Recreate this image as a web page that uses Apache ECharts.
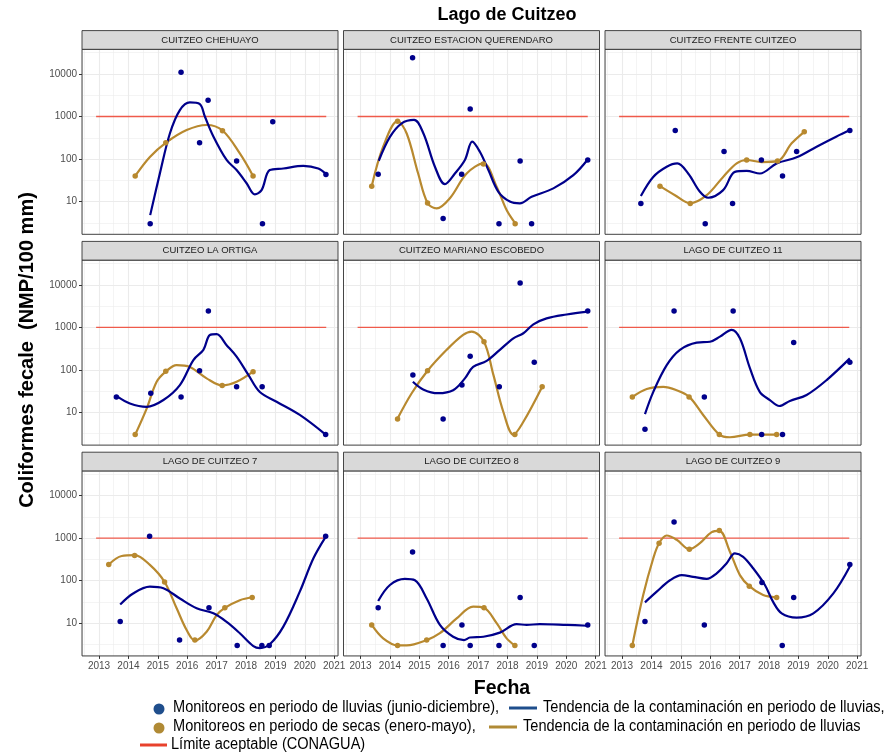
<!DOCTYPE html>
<html>
<head>
<meta charset="utf-8">
<script src="https://cdn.jsdelivr.net/npm/echarts@6/dist/echarts.min.js"></script>
<style>
html,body{margin:0;padding:0;background:#ffffff;}
#chart{width:887px;height:755px;}
</style>
</head>
<body>
<div id="chart"></div>
<script>
// Estaciones de monitoreo (una faceta por estación)
const estaciones = [
  'CUITZEO CHEHUAYO', 'CUITZEO ESTACION QUERENDARO', 'CUITZEO FRENTE CUITZEO',
  'CUITZEO LA ORTIGA', 'CUITZEO MARIANO ESCOBEDO', 'LAGO DE CUITZEO 11',
  'LAGO DE CUITZEO 7', 'LAGO DE CUITZEO 8', 'LAGO DE CUITZEO 9'
];

// Monitoreos en periodo de lluvias: [fecha decimal, NMP/100 ml]
const lluviasPuntos = [
  [[2014.74,3],[2015.79,11000],[2016.42,240],[2016.71,2400],[2017.68,90],[2018.56,3],[2018.91,750],[2020.72,43]],
  [[2013.60,44],[2014.77,24000],[2015.81,4],[2016.44,44],[2016.73,1500],[2017.71,3],[2018.43,90],[2018.82,3],[2020.73,95]],
  [[2013.64,9],[2014.81,470],[2015.83,3],[2016.47,150],[2016.76,9],[2017.74,95],[2018.46,40],[2018.94,150],[2020.75,470]],
  [[2013.59,23],[2014.76,28],[2015.79,23],[2016.42,95],[2016.72,2400],[2017.68,40],[2018.55,40],[2020.71,3]],
  [[2014.78,76],[2015.81,7],[2016.45,44],[2016.73,210],[2017.72,40],[2018.43,11000],[2018.91,150],[2020.73,2400]],
  [[2013.78,4],[2014.77,2400],[2015.80,23],[2016.78,2400],[2017.75,3],[2018.46,3],[2018.84,440],[2020.75,150]],
  [[2013.72,11],[2014.72,1100],[2015.74,4],[2016.74,23],[2017.70,3],[2018.54,3],[2018.79,3],[2020.71,1100]],
  [[2013.60,23],[2014.77,470],[2015.81,3],[2016.45,9],[2016.73,3],[2017.71,3],[2018.43,40],[2018.91,3],[2020.73,9]],
  [[2013.78,11],[2014.77,2400],[2015.80,9],[2017.76,90],[2018.45,3],[2018.84,40],[2020.75,240]]
];

// Monitoreos en periodo de secas
const secasPuntos = [
  [[2014.23,40],[2015.27,240],[2017.20,460],[2018.24,40]],
  [[2013.38,23],[2014.26,770],[2015.28,9.3],[2017.18,76],[2018.26,3]],
  [[2014.29,23],[2015.32,9],[2017.24,95],[2018.29,90],[2019.20,440]],
  [[2014.23,3],[2015.27,92],[2017.19,43],[2018.24,90]],
  [[2014.26,7],[2015.28,95],[2017.20,460],[2018.25,3],[2019.18,40]],
  [[2013.35,23],[2015.28,23],[2016.31,3],[2017.35,3],[2018.26,3]],
  [[2013.33,240],[2014.21,390],[2015.23,93],[2016.26,4],[2017.28,23],[2018.21,40]],
  [[2013.38,9],[2014.26,3],[2015.25,4],[2017.20,23],[2018.25,3]],
  [[2013.35,3],[2014.26,760],[2015.29,550],[2016.31,1500],[2017.33,74],[2018.26,40]]
];

// Tendencia suavizada, periodo de lluvias
const tendenciaLluvias = [
  [[2014.74,4.8],[2015.07,46],[2015.41,398],[2015.75,1410],[2016.09,2140],[2016.43,1950],[2016.60,1000],[2016.89,339],[2017.34,95],[2017.68,55],[2018.02,27],[2018.30,14.8],[2018.53,18.6],[2018.81,55],[2019.27,60],[2019.95,69],[2020.46,60],[2020.71,45]],
  [[2013.62,91],[2014.00,331],[2014.40,692],[2014.82,832],[2015.14,398],[2015.53,66],[2015.87,25.7],[2016.21,45.7],[2016.55,95],[2016.80,257],[2017.06,148],[2017.35,55],[2017.69,17],[2018.08,10],[2018.42,9.1],[2018.82,12.9],[2019.56,20.4],[2020.24,41.7],[2020.73,97.7]],
  [[2013.64,13.5],[2014.06,38],[2014.52,66],[2014.88,79],[2015.25,45.7],[2015.65,17],[2015.93,12.3],[2016.44,18.6],[2016.84,50],[2017.24,52.5],[2017.69,45.7],[2018.26,79],[2018.94,110],[2019.62,195],[2020.30,339],[2020.75,479]],
  [[2013.59,24.5],[2014.05,16.2],[2014.62,13.5],[2015.19,19.5],[2015.75,43.7],[2016.21,170],[2016.55,295],[2016.77,661],[2017.00,692],[2017.34,380],[2017.68,204],[2018.08,76],[2018.47,30],[2019.04,17.8],[2019.83,8.7],[2020.71,3]],
  [[2014.78,52.5],[2015.13,34.7],[2015.64,28.2],[2016.15,33.1],[2016.55,63],[2016.83,117],[2017.29,162],[2017.74,295],[2018.20,550],[2018.54,724],[2018.88,1175],[2019.33,1620],[2020.01,2000],[2020.73,2340]],
  [[2013.78,9.1],[2014.06,30],[2014.52,129],[2014.97,295],[2015.54,437],[2015.99,457],[2016.33,603],[2016.73,871],[2017.01,550],[2017.35,110],[2017.69,30],[2018.03,19.5],[2018.35,14.1],[2018.71,18.6],[2019.28,25.7],[2019.96,57.5],[2020.75,186]],
  [[2013.72,27.5],[2014.16,50],[2014.73,72],[2015.19,66],[2015.75,38],[2016.32,22.4],[2016.89,17],[2017.34,10.7],[2017.79,5.8],[2018.25,2.9],[2018.47,2.6],[2018.81,3.2],[2019.27,8.3],[2019.83,55],[2020.29,331],[2020.71,1070]],
  [[2013.60,33.1],[2014.00,79],[2014.51,110],[2014.85,102],[2015.25,38],[2015.70,9.1],[2016.15,4.8],[2016.52,4],[2016.72,4.6],[2017.18,4.8],[2017.74,6],[2018.31,9.5],[2018.65,9.1],[2019.10,9.5],[2020.01,9.1],[2020.73,8.7]],
  [[2013.78,30.9],[2014.18,55],[2014.63,102],[2015.03,135],[2015.42,123],[2015.88,110],[2016.22,148],[2016.56,257],[2016.84,437],[2017.12,363],[2017.46,195],[2017.86,79],[2018.14,31.6],[2018.43,17],[2018.94,13.5],[2019.51,17],[2020.19,50],[2020.75,214]]
];

// Tendencia suavizada, periodo de secas
const tendenciaSecas = [
  [[2014.23,40],[2014.73,112],[2015.27,240],[2015.98,479],[2016.66,631],[2017.20,468],[2017.79,135],[2018.24,40]],
  [[2013.38,23],[2013.77,195],[2014.26,776],[2014.57,398],[2014.96,45.7],[2015.28,9.3],[2015.59,6.9],[2016.04,12],[2016.61,45.7],[2017.18,79],[2017.63,22.4],[2017.97,6.3],[2018.26,3.1]],
  [[2014.29,23],[2014.80,14.1],[2015.32,9.1],[2015.88,14.1],[2016.44,38],[2016.90,79],[2017.24,95],[2017.75,85],[2018.29,89],[2018.77,234],[2019.20,437]],
  [[2014.23,3],[2014.62,12.3],[2014.96,52.5],[2015.27,91],[2015.64,129],[2016.09,117],[2016.66,63],[2017.19,43],[2017.68,52.5],[2018.24,91]],
  [[2014.26,7.2],[2014.74,28.2],[2015.28,95],[2015.93,295],[2016.49,661],[2016.78,794],[2017.20,457],[2017.52,76],[2017.86,10.2],[2018.20,3],[2018.54,6],[2019.18,40]],
  [[2013.35,23],[2013.84,35.5],[2014.40,39.8],[2014.86,33.1],[2015.28,23.4],[2015.76,8.7],[2016.31,3],[2016.67,2.6],[2017.35,3],[2018.26,3]],
  [[2013.33,240],[2013.77,380],[2014.21,398],[2014.73,234],[2015.23,93],[2015.64,22.4],[2015.98,6.9],[2016.26,3.9],[2016.66,6.3],[2017.00,15.5],[2017.28,22.9],[2017.79,34.7],[2018.21,40.7]],
  [[2013.38,9.1],[2013.77,4.4],[2014.26,3],[2014.57,3],[2015.25,4],[2015.70,5.8],[2016.27,12.9],[2016.83,24.5],[2017.20,22.9],[2017.63,10],[2017.97,4.4],[2018.25,3]],
  [[2013.35,3],[2013.72,45.7],[2014.06,331],[2014.26,759],[2014.52,1150],[2014.86,912],[2015.29,550],[2015.65,759],[2016.05,1380],[2016.31,1480],[2016.67,479],[2017.01,135],[2017.33,74],[2017.80,45.7],[2018.26,40]]
];

// Límite aceptable (CONAGUA) y su tramo de fechas
const limiteValor = 1000;
const limiteFechas = [2012.90, 2020.73];

// Marcas de los ejes
const etiquetasAnios = [2013, 2014, 2015, 2016, 2017, 2018, 2019, 2020, 2021];
const etiquetasNMP = [10, 100, 1000, 10000];

// ---- composición ----
const AZUL = '#00008B';
const ORO = '#B8892F';
const ROJO = '#F04A3A';
const FONT = "'Liberation Sans', Arial, Helvetica, sans-serif";

const colLeft = [82, 343.5, 605];
const rowTop = [49.3, 260.1, 470.9];
const panelW = 256, panelH = 185, stripH = 18.7;
const xMin = 2012.42, xMax = 2021.13;
const yMin = 1.7, yMax = 38000;

const grids = [], xAxes = [], yAxes = [], series = [], graphics = [];

estaciones.forEach((nombre, i) => {
  const r = Math.floor(i / 3), c = i % 3;
  const left = colLeft[c], top = rowTop[r];
  grids.push({ left: left, top: top, width: panelW, height: panelH, show: false });

  xAxes.push({
    type: 'value', gridIndex: i, min: xMin, max: xMax,
    minInterval: 1, maxInterval: 1,
    axisLine: { show: false },
    axisTick: { show: r === 2, length: 3, lineStyle: { color: '#333333', width: 1 } },
    axisLabel: {
      show: r === 2, showMinLabel: false, showMaxLabel: false,
      color: '#4D4D4D', fontSize: 10, fontFamily: FONT, margin: 5,
      formatter: v => etiquetasAnios.indexOf(Math.round(v * 100) / 100) >= 0 ? String(v) : ''
    },
    splitLine: { show: true, lineStyle: { color: '#EBEBEB', width: 1.1 } },
    minorTick: { show: false, splitNumber: 2 },
    minorSplitLine: { show: true, lineStyle: { color: '#EBEBEB', width: 0.55 } }
  });

  yAxes.push({
    type: 'log', logBase: 10, gridIndex: i, min: yMin, max: yMax,
    axisLine: { show: false },
    axisTick: { show: c === 0, length: 3, lineStyle: { color: '#333333', width: 1 } },
    axisLabel: {
      show: c === 0, showMinLabel: false, showMaxLabel: false,
      color: '#4D4D4D', fontSize: 10, fontFamily: FONT, margin: 5,
      formatter: v => {
        const k = etiquetasNMP.find(t => Math.abs(t - v) / t < 1e-6);
        return k ? String(k) : '';
      }
    },
    splitLine: { show: true, lineStyle: { color: '#EBEBEB', width: 1.1 } }
  });
  // half-decade guides between the main decades
  yAxes.push({
    type: 'log', logBase: Math.sqrt(10), gridIndex: i, min: yMin, max: yMax,
    position: 'left',
    axisLine: { show: false }, axisTick: { show: false }, axisLabel: { show: false },
    splitLine: { show: true, lineStyle: { color: '#EBEBEB', width: 0.55 } }
  });

  const yi = 2 * i;
  series.push({
    type: 'line', xAxisIndex: i, yAxisIndex: yi, silent: true, symbol: 'none', z: 2,
    data: limiteFechas.map(f => [f, limiteValor]),
    lineStyle: { color: ROJO, width: 1.3, opacity: 0.9 }
  });
  series.push({
    type: 'line', xAxisIndex: i, yAxisIndex: yi, smooth: 0.35, symbol: 'none', z: 3,
    data: tendenciaSecas[i], lineStyle: { color: ORO, width: 2.2 }
  });
  series.push({
    type: 'line', xAxisIndex: i, yAxisIndex: yi, smooth: 0.35, symbol: 'none', z: 4,
    data: tendenciaLluvias[i], lineStyle: { color: AZUL, width: 2.2 }
  });
  series.push({
    type: 'scatter', xAxisIndex: i, yAxisIndex: yi, symbolSize: 5.5, z: 5,
    data: secasPuntos[i], itemStyle: { color: ORO, opacity: 1 }
  });
  series.push({
    type: 'scatter', xAxisIndex: i, yAxisIndex: yi, symbolSize: 5.5, z: 5,
    data: lluviasPuntos[i], itemStyle: { color: AZUL, opacity: 1 }
  });

  // panel border and facet strip
  graphics.push({
    type: 'rect', z: 100, silent: true,
    shape: { x: left, y: top, width: panelW, height: panelH },
    style: { fill: 'none', stroke: '#333333', lineWidth: 0.9 }
  });
  graphics.push({
    type: 'rect', z: 100, silent: true,
    shape: { x: left, y: top - stripH, width: panelW, height: stripH },
    style: { fill: '#D9D9D9', stroke: '#333333', lineWidth: 0.9 }
  });
  graphics.push({
    type: 'text', z: 101, silent: true, x: left + panelW / 2, y: top - stripH / 2,
    style: { text: nombre, font: '9.5px ' + FONT, fill: '#1A1A1A', align: 'center', verticalAlign: 'middle' }
  });
});

// titles
graphics.push({
  type: 'text', z: 101, x: 507, y: 15,
  style: { text: 'Lago de Cuitzeo', font: 'bold 18px ' + FONT, fill: '#000', align: 'center', verticalAlign: 'middle' }
});
graphics.push({
  type: 'text', z: 101, x: 27, y: 350, rotation: Math.PI / 2,
  style: { text: 'Coliformes fecale  (NMP/100 mm)', font: 'bold 20px ' + FONT, fill: '#000', align: 'center', verticalAlign: 'middle' }
});
graphics.push({
  type: 'text', z: 101, x: 502, y: 689,
  style: { text: 'Fecha', font: 'bold 19.5px ' + FONT, fill: '#000', align: 'center', verticalAlign: 'middle' }
});

// legend (condensed lettering)
const LFONT = '16px ' + FONT;
const leyenda = [
  { y: 708, kind: 'dot', color: '#1F4E8C', x: 159, text: 'Monitoreos en periodo de lluvias (junio-diciembre),', tx: 173 },
  { y: 708, kind: 'line', color: '#1F4E8C', x: 509, x2: 537, text: 'Tendencia de la contaminación en periodo de lluvias,', tx: 543 },
  { y: 727, kind: 'dot', color: '#B08A35', x: 159, text: 'Monitoreos en periodo de secas (enero-mayo),', tx: 173 },
  { y: 727, kind: 'line', color: '#B08A35', x: 489, x2: 517, text: 'Tendencia de la contaminación en periodo de lluvias', tx: 523 },
  { y: 745, kind: 'line', color: '#E8412C', x: 140, x2: 167, text: 'Límite aceptable (CONAGUA)', tx: 171 }
];
leyenda.forEach(it => {
  if (it.kind === 'dot') {
    graphics.push({ type: 'circle', z: 101, shape: { cx: it.x, cy: it.y + 1, r: 5.5 }, style: { fill: it.color } });
  } else {
    graphics.push({ type: 'line', z: 101, shape: { x1: it.x, y1: it.y, x2: it.x2, y2: it.y }, style: { stroke: it.color, lineWidth: 3 } });
  }
  graphics.push({
    type: 'text', z: 101, x: it.tx, y: it.y, scaleX: 0.91,
    style: { text: it.text, font: LFONT, fill: '#000', align: 'left', verticalAlign: 'middle' }
  });
});

const chart = echarts.init(document.getElementById('chart'), null, { renderer: 'canvas' });
chart.setOption({
  animation: false,
  backgroundColor: '#ffffff',
  grid: grids,
  xAxis: xAxes,
  yAxis: yAxes,
  series: series,
  graphic: { elements: graphics }
});
</script>
</body>
</html>
